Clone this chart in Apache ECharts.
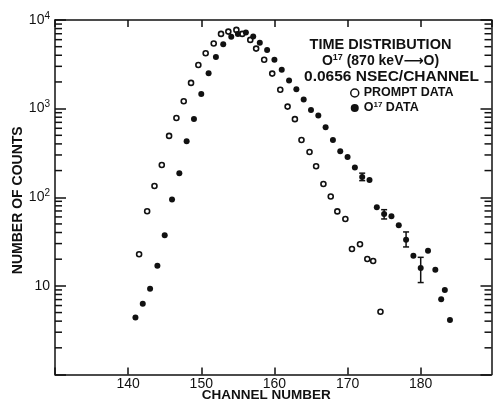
<!DOCTYPE html>
<html>
<head>
<meta charset="utf-8">
<script src="https://cdn.jsdelivr.net/npm/echarts@6/dist/echarts.min.js"></script>
<style>html,body{margin:0;padding:0;background:#fff}#c{width:493px;height:401px}</style>
</head>
<body>
<div id="c"></div>
<script>
// ---- data ----
const promptChannels = [141.5,142.6,143.6,144.6,145.6,146.6,147.6,148.6,149.6,150.6,151.7,152.7,153.7,154.8,155.6,156.7,157.5,158.6,159.7,160.8,161.8,162.8,163.7,164.8,165.7,166.7,167.7,168.6,169.7,170.6,171.7,172.7,173.5,174.5];
const promptCounts   = [22.7,69.5,134,231,492,785,1213,1950,3112,4218,5420,6966,7400,7730,6966,5960,4756,3565,2484,1630,1054,761,443,324,224,141,102,69.2,56.9,26.1,29.5,20.1,19.1,5.11];

const o17Channels = [141,142,143,144,145,146,147,148,149,150,151,152,153,154.1,155,156.1,157.1,158,159,160,161,162,163,164,165,166,167,168,169,170,171,172,173,174,175,176,177,178,179,180,181,182,182.8,183.3,184];
const o17Counts   = [4.4,6.3,9.3,16.9,37.3,94.5,187,429,765,1465,2510,3836,5330,6474,6970,7210,6500,5520,4600,3565,2748,2070,1656,1270,962,838,617,443,331,285,217,169,157,77.1,64.8,61.2,48.3,33.2,21.9,15.9,24.9,15.2,7.06,8.99,4.12];

const errChannels = [172,175,178,180];
const errLow      = [154,56.9,27.5,10.9];
const errHigh     = [187,72.4,40.6,21.0];

const xTickLabels = [140,150,160,170,180];
const minorTickValues = [2,3,4,5,6,7,8,9,20,30,40,50,60,70,80,90,200,300,400,500,600,700,800,900,2000,3000,4000,5000,6000,7000,8000,9000];

const X_MIN = 130, X_MAX = 189.68;
// ---------------------------------------

const FONT = 'Liberation Sans';
const INK = '#111';

const chart = echarts.init(document.getElementById('c'), null, {renderer: 'canvas'});

const promptData = promptChannels.map((c, i) => [c, promptCounts[i]]);
const o17Data = o17Channels.map((c, i) => [c, o17Counts[i]]);
const errData = errChannels.map((c, i) => [c, errLow[i], errHigh[i]]);

const supRich = {
  b: {fontFamily: FONT, fontSize: 14, color: INK},
  s: {fontFamily: FONT, fontSize: 10, color: INK, padding: [0, 0, 8, 0]}
};

const option = {
  backgroundColor: '#fff',
  animation: false,
  grid: {left: 55, right: 1.5, top: 20, bottom: 26.5, containLabel: false, outerBoundsMode: 'none'},
  xAxis: [{
    type: 'value', min: X_MIN, max: X_MAX, interval: 10, position: 'bottom',
    axisLine: {show: true, onZero: false, lineStyle: {color: INK, width: 1.5}},
    axisTick: {show: true, inside: true, length: 7, lineStyle: {color: INK, width: 1.5}},
    axisLabel: {
      margin: 3, fontFamily: FONT, fontSize: 14, color: INK,
      showMinLabel: true, showMaxLabel: false,
      formatter: v => xTickLabels.indexOf(Math.round(v)) >= 0 ? String(Math.round(v)) : ''
    },
    splitLine: {show: false},
    name: 'CHANNEL NUMBER', nameLocation: 'middle', nameGap: 14, nameMoveOverlap: false,
    nameTextStyle: {fontFamily: FONT, fontSize: 13.5, fontWeight: 'bold', color: INK, padding: [0, 14, 0, 0]}
  }, {
    type: 'value', min: X_MIN, max: X_MAX, interval: 10, position: 'top',
    axisLine: {show: true, onZero: false, lineStyle: {color: INK, width: 1.5}},
    axisTick: {show: true, inside: true, length: 7, lineStyle: {color: INK, width: 1.5}},
    axisLabel: {show: false}, splitLine: {show: false}
  }],
  yAxis: [{
    type: 'log', logBase: 10, min: 1, max: 10000, position: 'left',
    axisLine: {show: true, onZero: false, lineStyle: {color: INK, width: 1.5}},
    axisTick: {show: true, inside: true, length: 11, lineStyle: {color: INK, width: 1.5}},
    axisLabel: {
      margin: 5, rich: supRich,
      formatter: v => {
        const e = Math.round(Math.log10(v));
        if (e === 0) return '';
        if (e === 1) return '{b|10}';
        return '{b|10}{s|' + e + '}';
      }
    },
    splitLine: {show: false},
    name: 'NUMBER OF COUNTS', nameLocation: 'middle', nameGap: 30, nameRotate: 90, nameMoveOverlap: false,
    nameTextStyle: {fontFamily: FONT, fontSize: 14, fontWeight: 'bold', color: INK, padding: [0, 6, 0, 0]}
  }, {
    type: 'log', logBase: 10, min: 1, max: 10000, position: 'right',
    axisLine: {show: true, onZero: false, lineStyle: {color: INK, width: 1.5}},
    axisTick: {show: true, inside: true, length: 11, lineStyle: {color: INK, width: 1.5}},
    axisLabel: {show: false}, splitLine: {show: false}
  }],
  legend: {
    orient: 'vertical', left: 345, top: 81, itemWidth: 8, itemHeight: 8, itemGap: 1,
    icon: 'circle', selectedMode: false,
    data: [
      {name: 'PROMPT DATA', itemStyle: {color: '#fff', borderColor: INK, borderWidth: 1.5}},
      {name: 'O17 DATA', itemStyle: {color: INK}}
    ],
    textStyle: {
      fontFamily: FONT, fontSize: 12.5, fontWeight: 'bold', color: INK, lineHeight: 14,
      rich: {
        b: {fontFamily: FONT, fontSize: 12.5, fontWeight: 'bold', color: INK},
        s: {fontFamily: FONT, fontSize: 8, fontWeight: 'bold', color: INK, padding: [0, 0, 6, 0]}
      }
    },
    formatter: name => name === 'O17 DATA' ? '{b|O}{s|17}{b| DATA}' : name
  },
  graphic: [
    {type: 'text', x: 380.5, y: 45, style: {text: 'TIME DISTRIBUTION', align: 'center', verticalAlign: 'middle', font: 'bold 14.5px "Liberation Sans"', fill: INK}},
    {type: 'text', x: 380.5, y: 61, style: {
      text: '{b|O}{s|17}{b| (870 keV}{a|⟶}{b|O)}', align: 'center', verticalAlign: 'middle', fill: INK,
      rich: {
        b: {fontFamily: FONT, fontSize: 14, fontWeight: 'bold', fill: INK},
        s: {fontFamily: FONT, fontSize: 9, fontWeight: 'bold', fill: INK, padding: [0, 0, 7, 0]},
        a: {fontFamily: 'DejaVu Sans', fontSize: 14, fontWeight: 'bold', fill: INK}
      }
    }},
    {type: 'text', x: 391.5, y: 77, style: {text: '0.0656 NSEC/CHANNEL', align: 'center', verticalAlign: 'middle', font: 'bold 15.5px "Liberation Sans"', fill: INK}}
  ],
  series: [
    {
      name: 'PROMPT DATA', type: 'scatter', xAxisIndex: 0, yAxisIndex: 0,
      symbol: 'circle', symbolSize: 5,
      itemStyle: {color: '#fff', borderColor: INK, borderWidth: 1.6, opacity: 1},
      data: promptData, z: 3
    },
    {
      name: 'O17 DATA', type: 'scatter', xAxisIndex: 0, yAxisIndex: 0,
      symbol: 'circle', symbolSize: 6,
      itemStyle: {color: INK, opacity: 1},
      data: o17Data, z: 4
    },
    {
      name: 'errors', type: 'custom', xAxisIndex: 0, yAxisIndex: 0,
      data: errData, encode: {x: 0, y: [1, 2]}, z: 5,
      renderItem: (params, api) => {
        const x = api.value(0);
        const lo = api.coord([x, api.value(1)]);
        const hi = api.coord([x, api.value(2)]);
        const w = 3;
        const st = {stroke: INK, lineWidth: 1.5};
        return {type: 'group', children: [
          {type: 'line', shape: {x1: lo[0], y1: lo[1], x2: hi[0], y2: hi[1]}, style: st},
          {type: 'line', shape: {x1: lo[0] - w, y1: lo[1], x2: lo[0] + w, y2: lo[1]}, style: st},
          {type: 'line', shape: {x1: hi[0] - w, y1: hi[1], x2: hi[0] + w, y2: hi[1]}, style: st}
        ]};
      }
    },
    {
      name: 'minorTicks', type: 'custom', xAxisIndex: 0, yAxisIndex: 0,
      data: minorTickValues.map(v => [X_MIN, v]), encode: {x: 0, y: 1}, z: 6, silent: true,
      renderItem: (params, api) => {
        const v = api.value(1);
        const pl = api.coord([X_MIN, v]);
        const pr = api.coord([X_MAX, v]);
        const L = 7;
        const st = {stroke: INK, lineWidth: 1.5};
        return {type: 'group', children: [
          {type: 'line', shape: {x1: pl[0], y1: pl[1], x2: pl[0] + L, y2: pl[1]}, style: st},
          {type: 'line', shape: {x1: pr[0] - L, y1: pr[1], x2: pr[0], y2: pr[1]}, style: st}
        ]};
      }
    }
  ]
};
chart.setOption(option);
</script>
</body>
</html>
